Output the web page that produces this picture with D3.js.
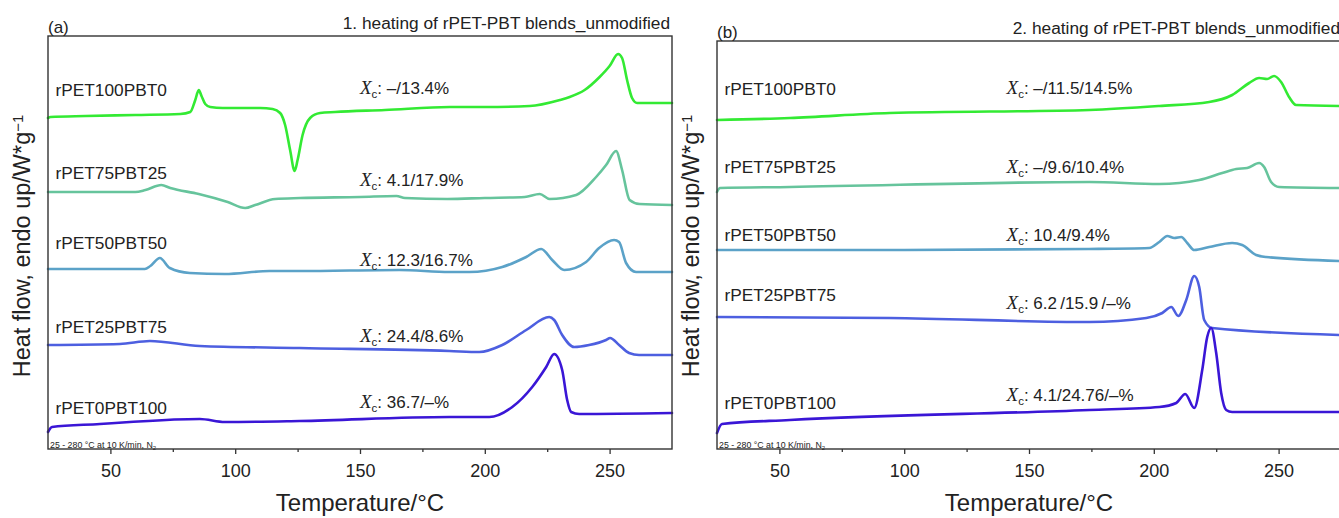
<!DOCTYPE html>
<html>
<head>
<meta charset="utf-8">
<script src="https://cdn.jsdelivr.net/npm/d3@7"></script>
<style>
  html, body { margin: 0; padding: 0; background: #fff; }
  svg { display: block; }
  text { font-family: "Liberation Sans", Arial, sans-serif; fill: #222; }
</style>
</head>
<body>
<svg id="chart" width="1339" height="518"></svg>
<script>
// ---------------- DATA ----------------
const samples = ["rPET100PBT0", "rPET75PBT25", "rPET50PBT50", "rPET25PBT75", "rPET0PBT100"];
const xTicks = [50, 100, 150, 200, 250];
const panelTitles = ["1. heating of rPET-PBT blends_unmodified", "2. heating of rPET-PBT blends_unmodified"];
const panelTags = ["(a)", "(b)"];
const xcHeating1 = ["\u2013/13.4%", "4.1/17.9%", "12.3/16.7%", "24.4/8.6%", "36.7/\u2013%"];
const xcHeating2 = ["\u2013/11.5/14.5%", "\u2013/9.6/10.4%", "10.4/9.4%", "6.2\u2009/15.9\u2009/\u2013%", "4.1/24.76/\u2013%"];

// Heat flow (offset, arbitrary units, endo up) vs temperature (°C) — 1st heating
const h1_rPET100PBT0 = [[25,3.31],[26,3.32],[40,3.33],[60,3.34],[78,3.35],[82,3.37],[84,3.49],[85.4,3.59],[86.5,3.53],[88,3.45],[90,3.42],[95,3.41],[110,3.41],[115,3.40],[118,3.36],[120,3.24],[122,2.99],[123.8,2.78],[125,2.89],[127,3.14],[130,3.31],[134,3.36],[140,3.37],[160,3.39],[186,3.42],[200,3.42],[218,3.43],[230,3.49],[234,3.52],[240,3.59],[246,3.72],[250,3.83],[253.4,3.95],[255,3.91],[257,3.69],[259,3.51],[261,3.46],[275,3.46]];
const h1_rPET75PBT25 = [[25,2.57],[60,2.57],[64,2.59],[70.4,2.64],[74,2.61],[85.4,2.55],[97,2.47],[104,2.41],[108,2.44],[116,2.50],[126,2.51],[150,2.52],[164.6,2.53],[168,2.51],[185,2.50],[200,2.51],[216,2.52],[222,2.55],[226,2.50],[236.6,2.54],[244.6,2.72],[248.6,2.84],[252.6,2.98],[255,2.79],[258,2.49],[262,2.45],[275,2.44]];
const h1_rPET50PBT50 = [[25,1.80],[63.8,1.80],[66,1.83],[69.8,1.91],[73.8,1.81],[81.8,1.76],[95.8,1.75],[113.8,1.78],[125.8,1.78],[165.8,1.79],[185.8,1.77],[193.8,1.77],[207,1.82],[216.6,1.92],[222.6,2.00],[227,1.89],[231.8,1.79],[240.6,1.87],[245.8,2.01],[251.8,2.09],[253.8,2.07],[256.6,1.86],[260.6,1.77],[275,1.77]];
const h1_rPET25PBT75 = [[25,1.04],[53.8,1.05],[65.8,1.08],[85.8,1.03],[125.8,1.01],[185.8,0.98],[197.8,0.97],[207,1.04],[216.6,1.19],[225.8,1.32],[227.8,1.29],[231,1.14],[235.8,1.02],[241.8,1.04],[248.6,1.09],[250.2,1.11],[253.8,1.04],[257.8,0.96],[261.8,0.94],[275,0.94]];
const h1_rPET0PBT100 = [[25,0.17],[26.6,0.22],[45.8,0.25],[57.8,0.27],[85.8,0.30],[95.8,0.27],[125.8,0.28],[185.8,0.32],[201.8,0.32],[211,0.42],[219,0.62],[224.6,0.82],[227.8,0.95],[231,0.79],[233,0.49],[234.6,0.37],[237.8,0.35],[275,0.36]];

// 2nd heating
const h2_rPET100PBT0 = [[25,3.29],[54.2,3.31],[94.2,3.36],[174.2,3.39],[202.2,3.43],[222.2,3.47],[231.4,3.54],[238.2,3.66],[242.2,3.71],[245.4,3.70],[248.2,3.73],[251,3.67],[254.2,3.52],[257,3.44],[275,3.43]];
const h2_rPET75PBT25 = [[25,2.57],[26.2,2.61],[54.2,2.62],[174.2,2.67],[202.2,2.65],[218.2,2.69],[227.4,2.76],[233,2.80],[237.4,2.81],[242.2,2.86],[244.2,2.82],[247,2.67],[250.2,2.62],[275,2.61]];
const h2_rPET50PBT50 = [[25,1.99],[100,1.99],[174,2.00],[198.2,2.01],[202.2,2.07],[205.4,2.13],[208.2,2.11],[211,2.12],[213.4,2.06],[216.2,1.99],[222.2,2.02],[231.4,2.06],[235.4,2.04],[241,1.94],[245,1.92],[275,1.88]];
const h2_rPET25PBT75 = [[25,1.32],[94.2,1.31],[174.2,1.27],[197,1.31],[203.4,1.36],[207,1.42],[209.8,1.33],[213,1.49],[216.2,1.73],[218.2,1.62],[220.2,1.29],[223.4,1.21],[275,1.14]];
const h2_rPET0PBT100 = [[25,0.16],[27,0.25],[54.2,0.29],[174.2,0.39],[202.2,0.42],[209,0.46],[212.6,0.55],[216.2,0.41],[219.4,0.79],[221.4,1.12],[223,1.21],[225,0.96],[227,0.56],[229,0.39],[231.4,0.37],[275,0.37]];

// ---------------- LAYOUT / STYLE ----------------
const colors = ["#33ea33", "#66c49c", "#5ba2c8", "#4d5fe0", "#3a16d6"];
const panels = [
  { left: 48, right: 672, top: 36, bottom: 449, ymax: 4.13, series: [h1_rPET100PBT0, h1_rPET75PBT25, h1_rPET50PBT50, h1_rPET25PBT75, h1_rPET0PBT100],
    xc: xcHeating1, labelY: [3.59, 2.76, 2.06, 1.22, 0.41], xcY: [3.61, 2.69, 1.89, 1.13, 0.47], xcT: 150,
    titleY: 23, tagY: 27, ylabX: 22, titleRight: 670 },
  { left: 717, right: 1341, top: 41, bottom: 449, ymax: 4.08, series: [h2_rPET100PBT0, h2_rPET75PBT25, h2_rPET50PBT50, h2_rPET25PBT75, h2_rPET0PBT100],
    xc: xcHeating2, labelY: [3.60, 2.82, 2.14, 1.54, 0.46], xcY: [3.61, 2.82, 2.14, 1.46, 0.54], xcT: 141,
    titleY: 28, tagY: 32, ylabX: 691, titleRight: 1340 }
];

const svg = d3.select("#chart");
svg.append("rect").attr("width", 1339).attr("height", 518).attr("fill", "#fff");

panels.forEach((p, pi) => {
  const x = d3.scaleLinear().domain([25, 275]).range([p.left, p.right]);
  const y = d3.scaleLinear().domain([0, p.ymax]).range([p.bottom, p.top]);
  const g = svg.append("g");

  // curves
  const line = d3.line().x(d => x(d[0])).y(d => y(d[1])).curve(d3.curveMonotoneX);
  p.series.forEach((s, i) => {
    g.append("path").datum(s).attr("d", line)
      .attr("fill", "none").attr("stroke", colors[i]).attr("stroke-width", 2.6)
      .attr("stroke-linejoin", "round").attr("stroke-linecap", "round");
  });

  // frame
  g.append("rect").attr("x", p.left).attr("y", p.top)
    .attr("width", p.right - p.left).attr("height", p.bottom - p.top)
    .attr("fill", "none").attr("stroke", "#333").attr("stroke-width", 1.4);

  // x axis
  const axis = d3.axisBottom(x).tickValues(xTicks).tickSize(5).tickPadding(10).tickFormat(d3.format("d"));
  const ax = g.append("g").attr("transform", `translate(0,${p.bottom})`).call(axis);
  ax.select(".domain").remove();
  ax.selectAll(".tick line").attr("stroke", "#333").attr("stroke-width", 1.3);
  ax.selectAll(".tick text").attr("font-size", "18px").attr("fill", "#222")
    .attr("font-family", '"Liberation Sans", Arial, sans-serif');
  const minor = d3.axisBottom(x).tickValues([75, 125, 175, 225]).tickSize(3).tickFormat("");
  const mx = g.append("g").attr("transform", `translate(0,${p.bottom})`).call(minor);
  mx.select(".domain").remove();
  mx.selectAll(".tick line").attr("stroke", "#333").attr("stroke-width", 1.3);

  // x title
  g.append("text").attr("x", x(150)).attr("y", 511)
    .attr("text-anchor", "middle").attr("font-size", "24px").text("Temperature/\u00B0C");

  // y title
  const yl = g.append("text")
    .attr("transform", `translate(${p.ylabX},246) rotate(-90)`)
    .attr("dy", "0.35em").attr("text-anchor", "middle").attr("font-size", "23.5px");
  yl.append("tspan").text("Heat flow, endo up/W*g");
  yl.append("tspan").attr("dy", "-0.45em").attr("font-size", "15px").text("\u22121");

  // titles
  g.append("text").attr("x", p.left).attr("y", p.tagY).attr("dy", "0.35em")
    .attr("font-size", "17px").text(panelTags[pi]);
  g.append("text").attr("x", p.titleRight).attr("y", p.titleY).attr("dy", "0.35em")
    .attr("text-anchor", "end").attr("font-size", "17.3px").text(panelTitles[pi]);

  // note
  const note = g.append("text").attr("x", p.left + 2).attr("y", 445).attr("dy", "0.35em")
    .attr("font-size", "8.8px").attr("fill", "#444");
  note.append("tspan").text("25 - 280 \u00B0C at 10 K/min, N");
  note.append("tspan").attr("dy", "2").attr("font-size", "6px").text("2");

  // sample labels
  samples.forEach((name, i) => {
    g.append("text").attr("x", x(28)).attr("y", y(p.labelY[i])).attr("dy", "0.35em")
      .attr("font-size", "17.3px").text(name);
    const t = g.append("text").attr("x", x(p.xcT)).attr("y", y(p.xcY[i])).attr("dy", "0.35em")
      .attr("font-size", "17px");
    t.append("tspan").attr("font-family", '"Liberation Serif", "Times New Roman", serif')
      .attr("font-style", "italic").attr("font-size", "19px").text("X");
    t.append("tspan").attr("dy", "4").attr("font-size", "11.5px").text("c");
    t.append("tspan").attr("dy", "-4").text(": " + p.xc[i]);
  });
});
</script>
</body>
</html>
